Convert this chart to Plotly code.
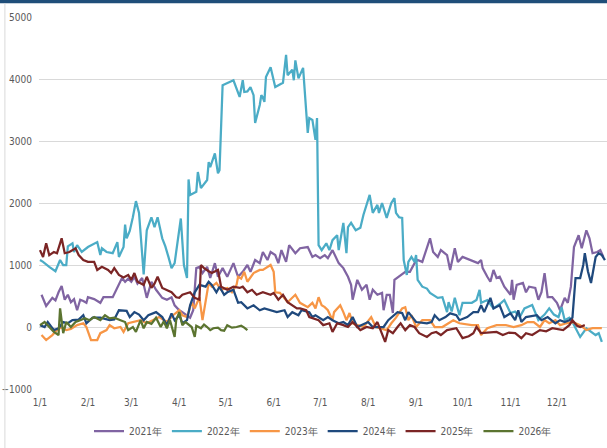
import pandas as pd
import plotly.graph_objects as go

# day offsets from 1/1 and spread values, one pair of lists per year
d2021 = [1, 4, 8, 10, 12, 14, 16, 18, 20, 22, 24, 26, 28, 30, 31, 35, 39, 41, 47, 51, 53, 55, 57, 59, 61, 63, 66, 69,
         72, 75, 79, 82, 85, 87, 90, 92, 97, 99, 101, 103, 105, 108, 110, 113, 115, 118, 121, 125, 128, 131, 134, 136,
         139, 142, 144, 147, 149, 152, 154, 156, 159, 161, 165, 168, 173, 176, 178, 181, 184, 186, 189, 193, 196, 199,
         201, 202, 205, 208, 211, 213, 215, 218, 221, 222, 224, 226, 228, 229, 233, 236, 239, 242, 244, 247, 252, 254,
         257, 259, 263, 265, 268, 270, 273, 278, 283, 285, 286, 289, 291, 293, 295, 297, 300, 304, 305, 306, 308, 312,
         314, 316, 320, 322, 324, 326, 328, 331, 334, 336, 339, 341, 343, 345, 348, 350, 353, 355, 357, 360, 362, 364]
v2021 = [520, 340, 470, 430, 560, 660, 440, 520, 400, 450, 270, 440, 420, 390, 480, 450, 390, 480, 480, 680, 790, 730,
         780, 730, 810, 700, 790, 470, 730, 600, 470, 440, 480, 350, 270, 240, 150, 270, 950, 970, 870, 970, 790, 1030,
         810, 950, 810, 1030, 810, 890, 1000, 890, 1080, 1030, 1210, 1080, 1210, 1160, 1030, 1240, 1050, 1320, 1190,
         1270, 1290, 1130, 1160, 1110, 1160, 1110, 1240, 1030, 950, 810, 680, 440, 760, 600, 680, 440, 600, 520, 550,
         270, 520, 520, 225, 760, 840, 890, 890, 1030, 1080, 1050, 1430, 1210, 1130, 1240, 1160, 920, 1270, 1050, 1130,
         1080, 1030, 1080, 950, 810, 730, 920, 790, 810, 650, 520, 760, 440, 680, 710, 560, 650, 630, 440, 560, 870,
         480, 480, 390, 270, 470, 390, 650, 1290, 1480, 1270, 1560, 1430, 1190, 1210, 1240, 1130]

d2022 = [0, 2, 6, 10, 13, 15, 17, 18, 21, 22, 24, 27, 31, 37, 39, 40, 43, 47, 50, 51, 54, 55, 56, 58, 60, 62, 64, 67,
         69, 72, 74, 76, 79, 81, 83, 85, 87, 89, 91, 93, 95, 96, 97, 101, 102, 104, 108, 109, 110, 113, 115, 116, 118,
         125, 129, 131, 132, 134, 136, 138, 139, 142, 143, 144, 145, 146, 149, 152, 157, 159, 160, 163, 164, 165, 167,
         170, 173, 174, 176, 178, 179, 180, 182, 185, 187, 189, 192, 193, 196, 198, 199, 201, 204, 207, 209, 213, 215,
         218, 219, 221, 224, 227, 229, 230, 232, 234, 235, 237, 238, 240, 242, 243, 244, 247, 250, 252, 255, 257, 260,
         263, 264, 266, 268, 271, 273, 276, 279, 282, 284, 285, 289, 293, 296, 298, 300, 304, 307, 310, 313, 318, 322,
         326, 329, 332, 335, 337, 339, 342, 344, 347, 349, 353, 356, 359, 361, 363]
v2022 = [1080, 1050, 970, 900, 1080, 1000, 1000, 1300, 1350, 1210, 1320, 1210, 1290, 1370, 1160, 1270, 1210, 1190,
         1370, 1130, 1290, 1650, 1430, 1550, 1770, 2030, 1840, 850, 1560, 1770, 1610, 1770, 1430, 1300, 1130, 950,
         1030, 1430, 1750, 1000, 790, 2380, 2130, 2180, 2500, 2240, 2370, 2660, 2580, 2800, 2480, 2530, 3900, 3980,
         3710, 3980, 3790, 3800, 3870, 3740, 3290, 3580, 3740, 3700, 3630, 4030, 4190, 3870, 3940, 4390, 4060, 4150,
         3980, 4300, 4010, 4180, 3130, 3370, 3340, 3020, 3370, 1320, 1240, 1350, 1240, 1400, 1480, 1240, 1680, 1190,
         1610, 1680, 1560, 1600, 1810, 2130, 1840, 1970, 1840, 2000, 1760, 2000, 2080, 1840, 1770, 1760, 1080, 840,
         1050, 1130, 1050, 1160, 760, 650, 620, 550, 500, 470, 480, 240, 400, 250, 470, 190, 390, 390, 390, 435, 600,
         390, 435, 300, 350, 390, 435, 225, 250, 160, 300, 355, 110, 200, 300, 200, 160, 320, 110, 150, 80, -50, -160,
         -20, -80, -130, -100, -240]

d2023 = [1, 4, 8, 11, 14, 17, 20, 24, 28, 30, 33, 37, 39, 43, 45, 48, 52, 54, 57, 60, 65, 69, 73, 77, 82, 86, 90, 92,
         95, 98, 100, 103, 105, 108, 109, 111, 114, 117, 121, 124, 127, 128, 130, 132, 134, 138, 142, 144, 149, 151,
         152, 155, 160, 165, 168, 173, 176, 178, 180, 182, 184, 186, 189, 190, 194, 196, 198, 200, 202, 209, 214, 217,
         224, 227, 230, 234, 236, 238, 240, 243, 247, 252, 255, 260, 264, 267, 271, 279, 283, 285, 289, 295, 301, 306,
         311, 315, 319, 323, 326, 329, 333, 336, 340, 344, 349, 353, 357, 363]
v2023 = [-130, -210, -130, -50, 0, -50, -30, 30, 60, 0, -210, -210, -100, -50, 30, -20, 0, -80, 60, 80, 110, 60, 110,
         160, 80, 190, 270, 190, 160, 400, 300, 480, 110, 560, 710, 650, 710, 600, 630, 560, 680, 810, 780, 890, 730,
         870, 920, 920, 1000, 890, 560, 550, 400, 520, 390, 320, 390, 300, 480, 350, 320, 270, 110, 240, 350, 240, 110,
         225, 60, 0, 160, 0, -50, 60, 150, 300, 320, 110, 190, 0, 110, 110, 0, 0, 60, 110, 60, 30, 30, -130, -20, 30,
         30, 0, 30, 80, 80, 0, 110, 60, 110, 30, 60, 80, 30, -50, -20, -20]

d2024 = [0, 3, 5, 9, 12, 15, 18, 21, 25, 28, 30, 34, 39, 45, 48, 51, 56, 58, 61, 64, 67, 70, 75, 79, 82, 85, 87, 90,
         92, 95, 97, 100, 103, 107, 109, 111, 114, 116, 119, 121, 125, 128, 130, 134, 138, 142, 145, 149, 153, 158, 160,
         163, 167, 169, 174, 176, 178, 183, 186, 189, 193, 196, 199, 202, 205, 212, 215, 222, 225, 231, 234, 236, 238,
         243, 250, 253, 255, 258, 262, 265, 269, 271, 276, 280, 283, 285, 287, 291, 293, 297, 300, 304, 307, 309, 311,
         314, 321, 324, 328, 333, 336, 339, 342, 344, 346, 349, 351, 352, 354, 356, 359, 361, 363, 365]
v2024 = [30, 0, 80, -50, -20, 80, 60, 110, 120, 190, 60, 150, 150, 110, 120, 270, 260, 160, 240, 200, 110, 190, 240,
         160, 30, 220, 110, 190, 60, 110, 350, 560, 680, 650, 730, 680, 560, 650, 520, 560, 600, 390, 400, 300, 350,
         270, 300, 270, 240, 270, 160, 240, 190, 270, 240, 160, 190, 110, 160, 110, 60, 80, 30, 160, 0, 80, 0, 0, 110,
         240, 225, 110, 240, 80, 60, 80, 190, 110, 160, 220, 190, 110, 160, 240, 240, 350, 240, 470, 300, 350, 160, 220,
         110, 270, 80, 160, 190, 110, 160, 60, 110, 80, 110, 150, 790, 790, 1000, 1190, 900, 710, 1130, 1190, 1160, 1080]

d2025 = [0, 2, 4, 6, 9, 11, 14, 16, 19, 23, 25, 28, 31, 35, 37, 40, 44, 46, 48, 51, 54, 57, 59, 61, 63, 67, 69, 72, 74,
         76, 79, 82, 85, 88, 90, 92, 97, 100, 103, 104, 106, 109, 111, 115, 117, 121, 125, 129, 131, 134, 137, 140, 144,
         149, 151, 154, 157, 160, 163, 166, 168, 172, 174, 180, 183, 187, 189, 192, 196, 199, 202, 207, 211, 215, 218,
         221, 223, 225, 228, 231, 233, 236, 239, 242, 245, 250, 253, 256, 259, 263, 266, 269, 273, 277, 280, 282, 285,
         290, 295, 299, 303, 307, 311, 314, 318, 323, 327, 331, 335, 338, 342, 344, 347, 349, 352]
v2025 = [1240, 1130, 1350, 1160, 1210, 1190, 1430, 1190, 1210, 1270, 1160, 1080, 1050, 1050, 920, 970, 920, 870, 950,
         840, 800, 840, 760, 870, 730, 680, 810, 630, 700, 810, 630, 600, 560, 480, 470, 520, 560, 470, 440, 1000, 950,
         900, 870, 920, 650, 600, 650, 630, 650, 560, 600, 520, 560, 520, 550, 440, 520, 400, 350, 300, 300, 270, 160,
         110, 30, 60, -80, 60, 30, 0, 80, -50, 0, -20, 80, -130, -240, -50, -100, 0, 60, -50, 30, 0, -100, -160, -100,
         -80, -130, -50, -30, -20, -180, -150, -100, 0, -100, -90, -80, -130, -90, -100, -180, -100, -130, -50, -70,
         -20, -40, -50, 30, 110, 20, 0, 30]

d2026 = [0, 3, 6, 9, 12, 13, 15, 17, 20, 23, 26, 29, 32, 35, 39, 42, 45, 48, 52, 55, 57, 60, 62, 65, 67, 69, 72, 75,
         78, 80, 82, 84, 87, 88, 90, 92, 94, 95, 98, 100, 101, 104, 106, 108, 110, 112, 115, 117, 119, 121, 124, 127,
         130, 132, 134]
v2026 = [30, 80, 0, -80, -130, 300, -100, 80, 0, 80, 110, 140, 110, 160, 110, 190, 140, 150, 110, 80, -50, 0, -80, 110,
         -20, 80, 50, 150, 0, 90, -20, 110, -160, 110, 240, 30, 80, 60, 0, -160, 20, -20, 40, 0, -50, -20, -10, -50, -60,
         30, -10, 0, 20, -10, -50]

series = [
    ("2021年", d2021, v2021, "#8064A2"),
    ("2022年", d2022, v2022, "#4BACC6"),
    ("2023年", d2023, v2023, "#F79646"),
    ("2024年", d2024, v2024, "#1F497D"),
    ("2025年", d2025, v2025, "#7B2525"),
    ("2026年", d2026, v2026, "#5B7430"),
]

month_ticks = pd.date_range("2021-01-01", periods=12, freq="MS")
tick_text = ["%d/1" % m for m in range(1, 13)]
base = pd.Timestamp("2021-01-01")

FONT = "Liberation Sans Narrow, DejaVu Sans Condensed, Arial Narrow, sans-serif"
GRID = "#d9d9d9"

fig = go.Figure()
for name, days, vals, color in series:
    x = base + pd.to_timedelta(days, unit="D")
    fig.add_trace(go.Scatter(x=x, y=vals, name=name, mode="lines",
                             line=dict(color=color, width=2.25)))

x_range = [base - pd.Timedelta(hours=15), base + pd.Timedelta(days=366, hours=8)]

fig.update_layout(
    width=607, height=448,
    margin=dict(l=39, r=0, t=17, b=59, autoexpand=False),
    paper_bgcolor="white", plot_bgcolor="white",
    font=dict(family=FONT, size=10, color="#595959"),
    showlegend=True,
    legend=dict(orientation="h", x=0.5, xanchor="center", y=-0.113, yanchor="middle",
                font=dict(size=10, color="#595959"), itemwidth=30, tracegroupgap=0),
    xaxis=dict(type="date", range=x_range, tickvals=month_ticks, ticktext=tick_text,
               showgrid=False, zeroline=False, showline=False, ticks="",
               tickfont=dict(size=10), automargin=False, ticklabelstandoff=6),
    xaxis2=dict(type="date", range=x_range, tickvals=month_ticks, overlaying="x",
                anchor="free", position=1 / 6, showgrid=False, zeroline=False,
                showticklabels=False, ticks="outside", ticklen=4, tickcolor=GRID,
                showline=False, automargin=False),
    yaxis=dict(range=[-1000, 5000], tickvals=[-1000, 0, 1000, 2000, 3000, 4000, 5000],
               showgrid=True, gridcolor=GRID, gridwidth=1, zeroline=True, zerolinecolor=GRID,
               zerolinewidth=1, showline=False, ticks="", tickfont=dict(size=10),
               automargin=False, ticklabelstandoff=6),
    shapes=[
        dict(type="rect", xref="paper", yref="paper", x0=-0.08, x1=1.01, y0=1.037, y1=1.05,
             fillcolor="#1F4E79", line_width=0, layer="above"),
        dict(type="line", xref="paper", yref="paper", x0=-0.06, x1=-0.06, y0=-0.16, y1=1.037,
             line=dict(color=GRID, width=1)),
    ],
)

fig.write_html("out.html", config={"displayModeBar": False},
               post_script="document.body.style.margin='0';")
